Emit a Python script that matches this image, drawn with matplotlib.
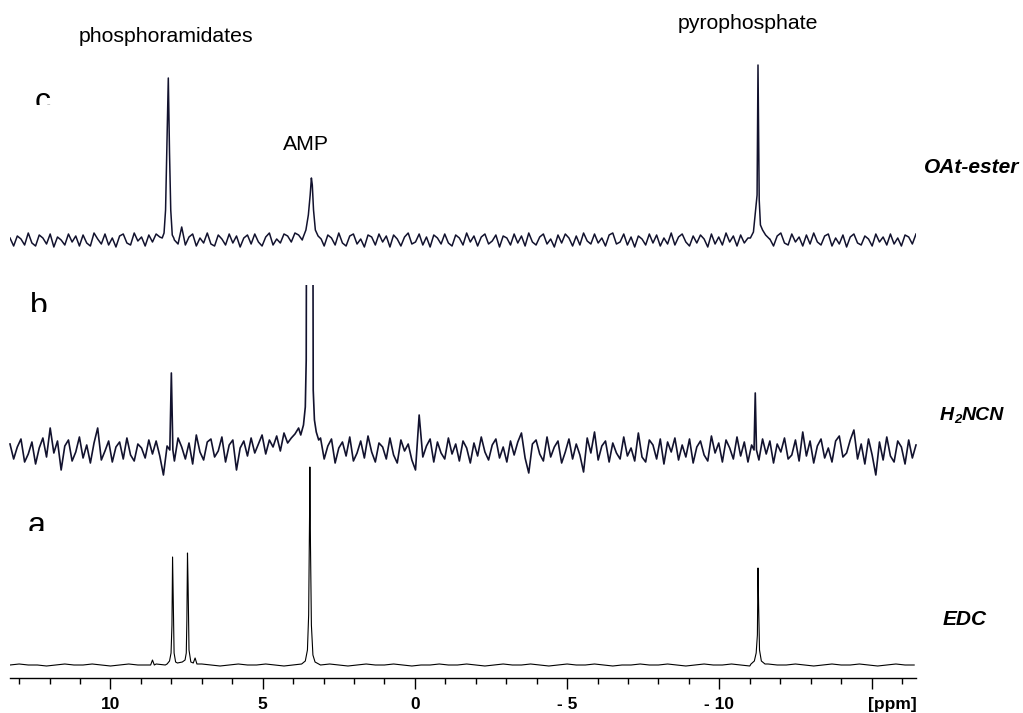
import numpy as np
import matplotlib.pyplot as plt
from matplotlib.patches import Rectangle
from matplotlib.ticker import FixedLocator, MultipleLocator, FixedFormatter

plt.rcParams['font.family'] = ['Liberation Sans', 'DejaVu Sans']

# shown shift range (ppm), left to right
ppm_left = 13.3
ppm_right = -16.46
noise_step = 0.12      # spectra b and c
a_noise_step = 0.3     # spectrum a

# --- c: OAt-ester ---
c_noise = [2, -6, 4, 1, -5, 7, -3, -6, 5, 2, -4, 6, -7, 3, 0, -5, 6, -2, 4, -6,
           5, -3, -6, 7, 1, -4, 6, -5, 2, -7, 4, 6, -3, -5, 7, -1, 3, -6, 5, -2,
           6, 3, 0, 0, 0, 0, -4, 13, -5, 3, 6, -6, 2, -3, 7, -4, -6, 5, 1, -5,
           6, -3, 4, -7, 2, 5, -4, 6, -2, -6, 3, 7, -5, 1, -3, 6, 4, -2, 7, 5,
           0, 0, 0, 0, 0, 0, -6, 5, 2, -5, 7, -3, -6, 4, 6, -4, 1, -7, 5, 3,
           -5, 6, -2, 4, -7, 5, 1, -6, 3, 7, -4, -2, 6, -5, 3, -7, 5, 2, -4, 6,
           -3, -6, 5, 2, -5, 7, -2, 4, -6, 3, 6, -4, -1, 5, -7, 4, 2, -5, 6, -3,
           4, -6, 7, -2, -5, 3, 6, -4, 1, -7, 5, -3, 6, 2, -6, 4, -5, 7, -1, -4,
           6, -3, 2, -6, 5, 7, -4, -2, 6, -5, 3, -7, 4, 1, -5, 6, -3, 5, -6, 2,
           -4, 7, -5, 3, 6, -2, -6, 4, -3, 5, 1, -7, 6, -4, 3, -5, 7, -2, 4, -6,
           5, -3, 2, 0, 0, 0, 0, 0, 1, -6, 4, 7, -3, -5, 6, -2, 3, -6, 5, -4,
           7, -2, -5, 4, 6, -6, 2, -4, 5, -7, 3, 6, -3, -5, 4, 1, -6, 6, -2, 3,
           -5, 6, -4, 2, -6, 5, 3, -4, 6]
c_peaks = [
    ([8.30, 8.24, 8.19, 8.15, 8.10, 8.06, 8.02, 7.97, 7.92], [2, 7, 30, 87, 162, 87, 30, 5, 2]),
    ([3.68, 3.58, 3.50, 3.44, 3.40, 3.37, 3.33, 3.27, 3.18, 3.08], [2, 10, 25, 45, 62, 55, 30, 10, 4, 1]),
    ([-11.02, -11.12, -11.19, -11.24, -11.27, -11.31, -11.35, -11.42, -11.52, -11.65],
     [2, 8, 30, 45, 175, 40, 15, 10, 5, 1]),
]

# --- b: H2NCN ---
b_noise = [6, -9, 3, 11, -12, -4, 8, -14, 2, 12, -7, 22, -3, 9, -20, 4, 10, -11, -2, 13,
           -8, 5, -13, 7, 22, -10, -1, 9, -12, 3, 8, -9, 12, -5, -11, 6, 2, -8, 10, -4,
           9, -6, -25, 4, 0, -11, 12, 3, -9, 7, -14, 15, -2, -10, 8, 11, -7, -1, 13, -12,
           5, 10, -20, 2, 9, -6, 12, -3, 6, 15, -4, 10, 3, 14, -1, 17, 7, 12, 16, 22,
           0, 0, 0, 0, 0, 12, -9, 4, 11, -13, 2, 8, -6, 13, -11, -3, 9, -8, 14, -2,
           -12, 7, 3, -9, 12, -5, -13, 10, -1, 6, -10, -20, 35, -7, 4, 11, -12, 8, -3, -9,
           12, -4, 6, -11, 9, 2, -13, 7, -6, 13, -2, -10, 5, 11, -8, 3, -12, 9, -5, 8,
           17, -8, -23, 6, 10, -4, -11, 13, -7, 3, 9, -13, -2, 11, -9, 6, -5, -22, 12, -3,
           18, -10, 4, 9, -12, 7, -3, -9, 13, -6, 2, -11, 17, -7, -12, 10, 5, -9, 11, -14,
           8, -2, 12, -10, 5, -7, 11, -13, 3, 9, -5, -11, 14, -3, 7, -12, 10, 2, -9, 13,
           -6, 8, -12, 5, 0, -10, 11, -4, 9, -13, 6, -2, 12, -9, -5, 10, -11, 18, -6, 9,
           -13, 4, 11, -8, 2, -12, 9, 14, -7, -3, 10, 20, -9, 6, -14, 11, -5, -25, 8, -10,
           13, -6, -12, 9, 3, -14, 10, -8, 5]
b_peaks = [
    ([8.05, 8.00, 7.95], [0, 77, 0]),
    ([3.75, 3.66, 3.60, 3.57, 3.55, 3.45, 3.36, 3.34, 3.30, 3.24, 3.16],
     [15, 25, 43, 90, 400, 700, 400, 60, 30, 18, 10]),
    ([-11.14, -11.18, -11.22], [0, 57, 0]),
]

# --- a: EDC ---
a_noise = [0, 1, 0, 0, -1, 0, 1, 0, 0, 1, 0, -1, 0, 1, 0, 0, 1, 0, 0, 0,
           0, 1, 0, -1, 0, 1, 0, 0, 1, 0, -1, 0, 1, 0, 0, 1, 0, -1, 0, 1,
           0, 0, 1, 0, -1, 0, 0, 1, 0, 0, 1, 0, -1, 0, 1, 0, 0, 1, 0, -1,
           0, 1, 0, 0, 1, 0, -1, 0, 0, 1, 0, 0, 1, 0, -1, 0, 1, 0, 0, 1,
           0, -1, 0, 1, 0, 0, 1, 0, -1, 0, 1, 0, 0, 1, 0, -1, 0, 1, 0, 0]
a_peaks = [
    ([8.68, 8.62, 8.56], [0, 5, 0]),
    ([8.14, 8.06, 8.01, 7.98, 7.96, 7.94, 7.91, 7.86, 7.80], [1, 4, 12, 40, 108, 70, 12, 3, 2]),
    ([7.64, 7.55, 7.51, 7.49, 7.47, 7.45, 7.42, 7.36, 7.28, 7.22, 7.16],
     [3, 5, 12, 45, 112, 80, 15, 3, 2, 7, 1]),
    ([3.72, 3.60, 3.53, 3.49, 3.46, 3.45, 3.43, 3.40, 3.35, 3.28, 3.16],
     [1, 4, 15, 50, 150, 198, 120, 40, 10, 3, 1]),
    ([-11.04, -11.15, -11.21, -11.25, -11.27, -11.29, -11.32, -11.38, -11.50],
     [1, 4, 12, 30, 97, 60, 15, 4, 1]),
]

tick_vals = [10, 5, 0, -5, -10, -15]
tick_labels = ['10', '5', '0', '- 5', '- 10', '']


def build(noise, step, peaks):
    grid = ppm_left - step * np.arange(len(noise))
    noise = np.array(noise, float)
    keep = np.ones(len(grid), bool)
    for px, py in peaks:
        keep &= ~((grid <= max(px)) & (grid >= min(px)))
    xs = np.concatenate([grid[keep]] + [np.array(p[0], float) for p in peaks])
    ys = np.concatenate([noise[keep]] + [np.array(p[1], float) for p in peaks])
    order = np.argsort(-xs)
    return xs[order], ys[order]


W, H = 1023, 713
fig = plt.figure(figsize=(W / 100, H / 100), dpi=100)
ax_bottom_px = 678
ax = fig.add_axes([10 / W, (H - ax_bottom_px) / H, 906 / W, ax_bottom_px / H])
ax.set_xlim(ppm_left, ppm_right)
ax.set_ylim(0, ax_bottom_px)

line_col = '#12122e'
base_c, base_b, base_a = 438, 228, 13

x, y = build(c_noise, noise_step, c_peaks)
ax.plot(x, y + base_c, color=line_col, lw=1.1)

x, y = build(b_noise, noise_step, b_peaks)
lb, = ax.plot(x, y + base_b, color=line_col, lw=1.2)
lb.set_clip_path(Rectangle((-30, -100), 60, 393 + 100, transform=ax.transData))

x, y = build(a_noise, a_noise_step, a_peaks)
ax.plot(x, y + base_a, color='black', lw=0.8)

# axis styling
for s in ['left', 'right', 'top']:
    ax.spines[s].set_visible(False)
ax.spines['bottom'].set_linewidth(1.0)
ax.set_yticks([])
ax.xaxis.set_major_locator(FixedLocator(tick_vals))
ax.xaxis.set_major_formatter(FixedFormatter(tick_labels))
ax.xaxis.set_minor_locator(MultipleLocator(1))
ax.tick_params(axis='x', which='major', length=8, width=1, pad=6,
               labelsize=12.5)
ax.tick_params(axis='x', which='minor', length=4.5, width=1)
for lab in ax.get_xticklabels():
    lab.set_fontweight('bold')
ax.text(-15.67, -27, '[ppm]', fontsize=12.5, fontweight='bold', ha='center',
        va='center', clip_on=False)

# panel letters, bottoms cut off like the original
for letter, xpos, base_px, clip_px in [('c', 12.24, 110, 105), ('b', 12.35, 315, 312),
                                       ('a', 12.44, 534, 531)]:
    t = ax.text(xpos, ax_bottom_px - base_px, letter, fontsize=23, ha='center',
                va='baseline', color='black')
    t.set_clip_on(True)
    t.set_clip_path(Rectangle((-30, ax_bottom_px - clip_px), 60, 300, transform=ax.transData))

# peak annotations
ax.text(8.19, ax_bottom_px - 42, 'phosphoramidates', fontsize=15.3, ha='center', va='baseline')
ax.text(-10.95, ax_bottom_px - 29, 'pyrophosphate', fontsize=15.3, ha='center', va='baseline')
ax.text(3.59, ax_bottom_px - 150, 'AMP', fontsize=15.3, ha='center', va='baseline')

# reagent labels on the right
lab_kw = dict(fontsize=15, fontweight='bold', fontstyle='italic', va='baseline')
fig.text(972 / W, 1 - 173 / H, 'OAt-ester', ha='center', **lab_kw)
fig.text(965 / W, 1 - 625 / H, 'EDC', ha='center', **lab_kw)
lab_kw['fontsize'] = 14
t_h = fig.text(940 / W, 1 - 420 / H, 'H', ha='left', **lab_kw)
t_2 = ax.annotate('2', xy=(1, 0), xycoords=t_h, xytext=(0, 1), textcoords='offset points',
                  fontsize=9.5, fontweight='bold', fontstyle='italic', va='baseline')
ax.annotate('NCN', xy=(1, 0), xycoords=(t_2, t_h), fontsize=14, fontweight='bold',
            fontstyle='italic', va='bottom')

fig.savefig('out.png', dpi=100)
